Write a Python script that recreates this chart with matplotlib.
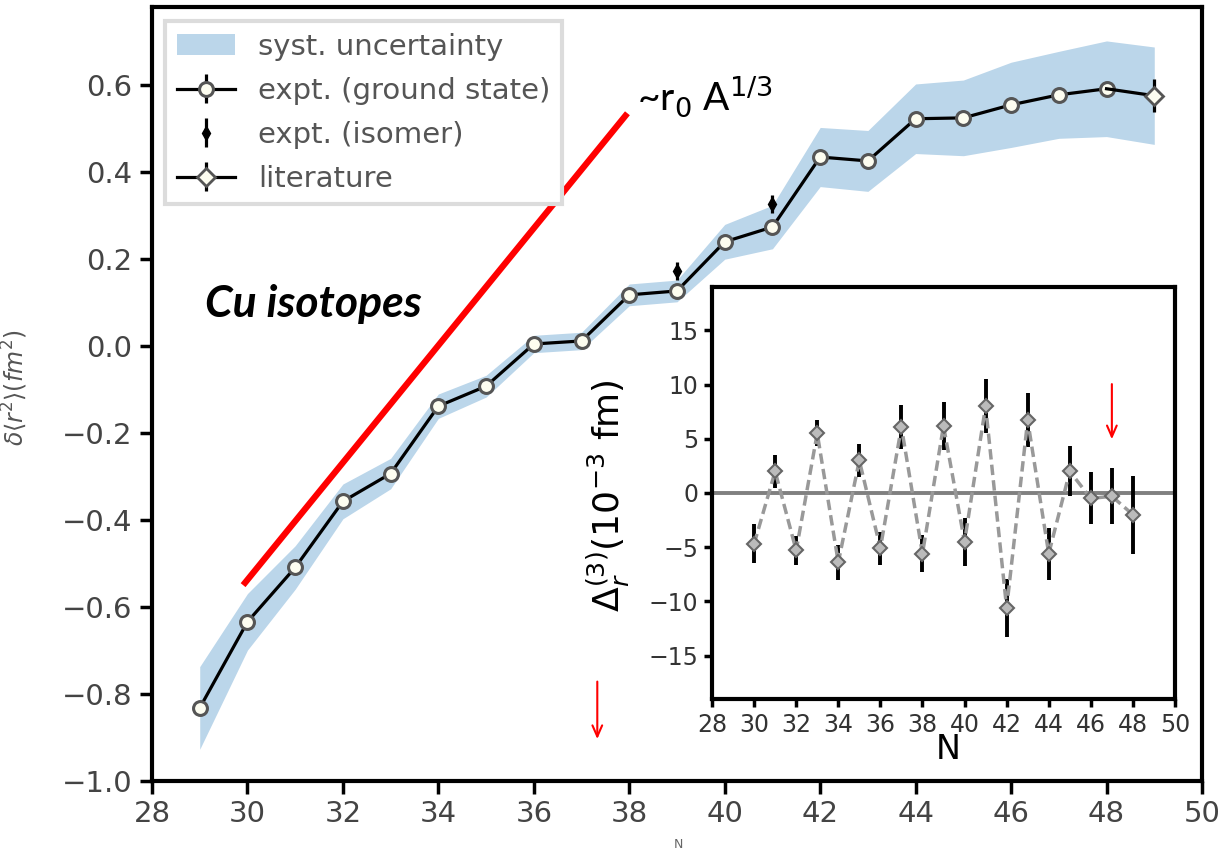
import numpy as np
import matplotlib
matplotlib.use("Agg")
import matplotlib.pyplot as plt

# ---------------- data ----------------
N_main = [29, 30, 31, 32, 33, 34, 35, 36, 37, 38, 39, 40, 41, 42, 43, 44, 45, 46, 47, 48]
dr2 = [-0.832, -0.634, -0.509, -0.357, -0.293, -0.138, -0.092, 0.005, 0.012, 0.118,
       0.127, 0.240, 0.274, 0.435, 0.426, 0.523, 0.525, 0.555, 0.578, 0.592]
dr2_err = [0.006] * 20

N_band = [29, 30, 31, 32, 33, 34, 35, 36, 37, 38, 39, 40, 41, 42, 43, 44, 45, 46, 47, 48, 49]
band_half = [0.095, 0.065, 0.05, 0.04, 0.035, 0.028, 0.025, 0.02, 0.02, 0.025, 0.025,
             0.04, 0.05, 0.068, 0.07, 0.08, 0.087, 0.098, 0.1, 0.11, 0.112]
band_center = [-0.832, -0.634, -0.509, -0.357, -0.293, -0.138, -0.092, 0.005, 0.012, 0.118,
               0.127, 0.240, 0.274, 0.435, 0.426, 0.523, 0.525, 0.555, 0.578, 0.592, 0.576]

N_iso = [39, 41]
dr2_iso = [0.173, 0.327]
dr2_iso_err = [0.02, 0.02]

N_lit = [48, 49]
dr2_lit = [0.592, 0.576]
dr2_lit_err = [0.0, 0.038]

# inset: Delta_r^(3)
N_in = [30, 31, 32, 33, 34, 35, 36, 37, 38, 39, 40, 41, 42, 43, 44, 45, 46, 47, 48]
d3 = [-4.7, 2.0, -5.3, 5.5, -6.4, 3.0, -5.1, 6.1, -5.6, 6.2, -4.5, 8.0, -10.6, 6.7,
      -5.6, 2.0, -0.5, -0.3, -2.0]
d3_err = [1.8, 1.5, 1.3, 1.2, 1.6, 1.5, 1.5, 2.0, 1.7, 2.2, 2.2, 2.5, 2.7, 2.5,
          2.4, 2.3, 2.4, 2.6, 3.6]

main_xticks = [28, 30, 32, 34, 36, 38, 40, 42, 44, 46, 48, 50]
main_yticks = [-1.0, -0.8, -0.6, -0.4, -0.2, 0.0, 0.2, 0.4, 0.6]
inset_yticks = [-15, -10, -5, 0, 5, 10, 15]

# ---------------- figure ----------------
fig = plt.figure(figsize=(12.26, 8.52), dpi=100)
ax = fig.add_axes([152/1226, 1-781/852, (1202-152)/1226, (781-7)/852])

lo = np.array(band_center) - np.array(band_half)
hi = np.array(band_center) + np.array(band_half)
ax.fill_between(N_band, lo, hi, color='#bbd6ea', lw=0, label='syst. uncertainty', zorder=1)

ax.errorbar(N_main, dr2, yerr=dr2_err, fmt='-o', color='black', lw=2.3,
            ms=10, mfc='#fdfdf0', mec='#555555', mew=2.2, elinewidth=2.3,
            label='expt. (ground state)', zorder=3)
ax.errorbar(N_iso, dr2_iso, yerr=dr2_iso_err, fmt='d', color='black', ms=7,
            elinewidth=2.3, label='expt. (isomer)', zorder=4)
ax.errorbar(N_lit, dr2_lit, yerr=dr2_lit_err, fmt='-D', color='black', lw=2.3,
            ms=9, mfc='#fdfdf0', mec='#555555', mew=2.0, elinewidth=2.3,
            markevery=[1], label='literature', zorder=3)

ax.set_xlim(28, 50)
ax.set_ylim(-1.0, 0.78)
ax.set_xticks(main_xticks)
ax.set_yticks(main_yticks)
ax.set_yticklabels([f'{v:.1f}'.replace('-', '\u2212') for v in main_yticks])
ax.tick_params(direction='out', length=9, width=2.5, labelsize=21,
               labelcolor='#444444', pad=5)
for sp in ax.spines.values():
    sp.set_linewidth(3)

ax.set_ylabel(r'$\delta\langle r^2\rangle(fm^2)$', fontsize=17, color='#555555')
ax.yaxis.set_label_coords((30-152)/1050, (781-388)/774)
fig.text(678/1226, 0.001, 'N', fontsize=9, color='#666666', ha='center', va='bottom')

leg = ax.legend(loc='upper left', bbox_to_anchor=(165/1226, 1-21/852),
                bbox_transform=fig.transFigure, borderaxespad=0,
                fontsize=21, frameon=True, fancybox=False, framealpha=1,
                edgecolor='#dcdcdc', handlelength=2.0, labelspacing=0.55,
                borderpad=0.4, handletextpad=0.8)
leg.get_frame().set_linewidth(3)
for t in leg.get_texts():
    t.set_color('#555555')

# red line and text
ax.plot([29.95, 37.92], [-0.544, 0.53], color='red', lw=4.5, zorder=5)
ax.text(38.17, 0.541, r'~r$_0$ A$^{1/3}$', fontsize=28, family='Lato',
        ha='left', va='baseline')
ax.text(29.11, 0.067, 'Cu isotopes', fontsize=32, family='Lato',
        fontweight='bold', style='italic', ha='left', va='baseline')

ax.annotate('', xy=(37.33, -0.91), xytext=(37.33, -0.765),
            arrowprops=dict(arrowstyle='->,head_length=0.8,head_width=0.35',
                            color='red', lw=1.5))

# ---------------- inset ----------------
axi = fig.add_axes([712/1226, 1-699/852, (1175-712)/1226, (699-287)/852])
axi.axhline(0, color='#808080', lw=2.8, zorder=1)
axi.errorbar(N_in, d3, yerr=d3_err, fmt='D', ls=(0, (3, 1.5)), color='#999999',
             lw=2.5, ms=7, mfc='#bbbbbb', mec='#666666', mew=1.5,
             ecolor='black', elinewidth=2.8, zorder=3)
axi.set_xlim(28, 50)
axi.set_ylim(-19, 19)
axi.set_xticks(main_xticks)
axi.set_yticks(inset_yticks)
axi.set_yticklabels([str(v).replace('-', '\u2212') for v in inset_yticks])
axi.tick_params(direction='out', length=6, width=2.5, labelsize=17,
                labelcolor='#333333', pad=4)
for sp in axi.spines.values():
    sp.set_linewidth(3)
axi.set_xlabel('N', fontsize=24)
axi.xaxis.set_label_coords((948-712)/463, -(733-699)/412)
axi.set_ylabel(r'$\Delta_r^{(3)}(10^{-3}$ fm)', fontsize=26)
axi.yaxis.set_label_coords((632-712)/463, (699-496)/412)
axi.annotate('', xy=(47.0, 4.7), xytext=(47.0, 10.3),
             arrowprops=dict(arrowstyle='->,head_length=0.8,head_width=0.35',
                             color='red', lw=1.5))

fig.savefig('out.png', dpi=100)
